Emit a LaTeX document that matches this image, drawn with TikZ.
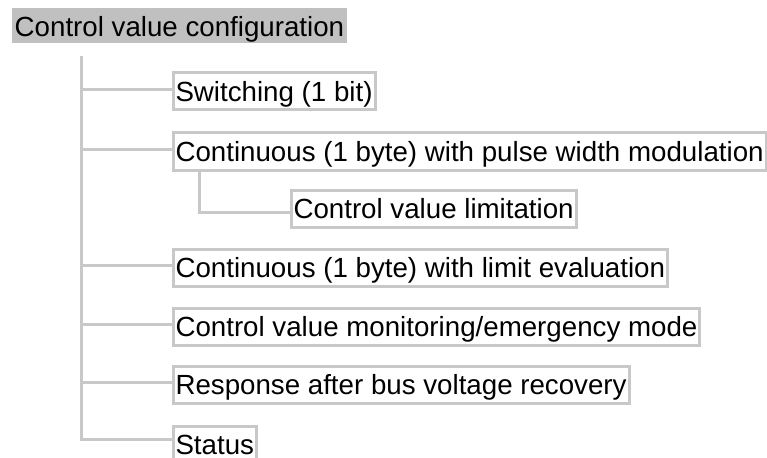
\documentclass[tikz,border=0pt]{standalone}
\usepackage{fontspec}
\setmainfont{Liberation Sans}
\definecolor{linegray}{HTML}{C8C8C8}
\definecolor{rootgray}{HTML}{C0C0C0}
\tikzset{
  item/.style={draw=linegray, line width=3pt, fill=white, anchor=north west,
    inner xsep=2.5pt, inner ysep=0pt, text height=28.5pt, text depth=8.5pt,
    font=\fontsize{27.7}{30}\selectfont},
  rootbox/.style={fill=rootgray, anchor=north west, inner xsep=2.5pt, inner ysep=0pt,
    text height=28pt, text depth=7pt, font=\fontsize{27.7}{30}\selectfont},
  conn/.style={draw=linegray, line width=3pt}
}
\begin{document}
\begin{tikzpicture}[x=1pt,y=-1pt]
\useasboundingbox (0,0) rectangle (767,457);
\clip (0,0) rectangle (767,457);
\node[rootbox] (root) at (12,8) {Control value configuration};
\node[item] (sw)  at (171.5,71.5)  {Switching (1 bit)};
\node[item] (pwm) at (171.5,131.5) {Continuous (1 byte) with pulse width modulation};
\node[item] (lim) at (289.5,188.5) {Control value limitation};
\node[item] (lev) at (171.5,247.5) {Continuous (1 byte) with limit evaluation};
\node[item] (mon) at (171.5,306.5) {Control value monitoring/emergency mode};
\node[item] (rec) at (171.5,364.5) {Response after bus voltage recovery};
\node[item, text depth=5.5pt] (st)  at (171.5,424.5) {Status};
\coordinate (vtop) at (81,56);
\foreach \n in {sw,pwm,lev,mon,rec}{
  \coordinate (c\n) at ([yshift=2pt]\n.west);
}
\coordinate (cst) at (st.north west |- 0,439);
\coordinate (clim) at ([yshift=-4pt]lim.west);
\coordinate (subtop) at ([xshift=27.5pt]pwm.south west);
\draw[conn] (vtop) |- (cst);
\foreach \n in {sw,pwm,lev,mon,rec}{
  \draw[conn] (c\n) -- (c\n -| vtop);
}
\draw[conn] (subtop) |- (clim);
\end{tikzpicture}
\end{document}
